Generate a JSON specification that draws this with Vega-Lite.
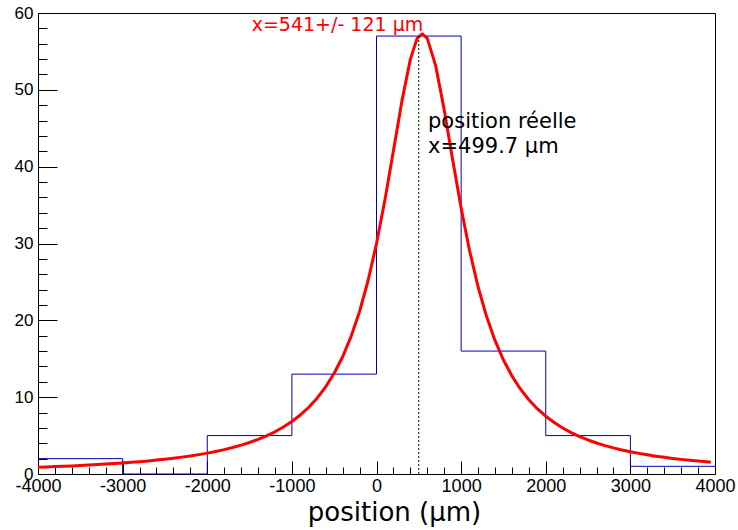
{
  "$schema": "https://vega.github.io/schema/vega-lite/v6.json",
  "width": 677,
  "height": 461,
  "autosize": "none",
  "padding": {"left": 38, "top": 13, "right": 23, "bottom": 56},
  "background": "white",
  "config": {
    "view": {"stroke": "black", "strokeWidth": 1},
    "axis": {"grid": false, "domainColor": "black", "domainWidth": 1, "tickColor": "black", "tickWidth": 1, "labelColor": "black", "labelFont": "Liberation Sans", "titleColor": "black"}
  },
  "encoding": {
    "x": {
      "field": "x", "type": "quantitative",
      "scale": {"domain": [-4000, 4000], "nice": false, "zero": false},
      "axis": {
        "values": [-4000,-3800,-3600,-3400,-3200,-3000,-2800,-2600,-2400,-2200,-2000,-1800,-1600,-1400,-1200,-1000,-800,-600,-400,-200,0,200,400,600,800,1000,1200,1400,1600,1800,2000,2200,2400,2600,2800,3000,3200,3400,3600,3800,4000],
        "labelExpr": "datum.value % 1000 === 0 ? '' + datum.value : ''",
        "tickSize": {"condition": {"test": "datum.value % 1000 === 0", "value": -13}, "value": -7},
        "labelPadding": 16,
        "labelFontSize": 18,
        "labelFlush": false,
        "labelOverlap": false,
        "labelBaseline": "top",
        "title": "position (µm)",
        "titleFont": "DejaVu Sans",
        "titleFontSize": 26,
        "titleFontWeight": "normal",
        "titleX": 356,
        "titleY": 46,
        "titleBaseline": "alphabetic",
        "titleAlign": "center",
        "titleAnchor": null
      }
    },
    "y": {
      "field": "y", "type": "quantitative",
      "scale": {"domain": [0, 60], "nice": false, "zero": true},
      "axis": {
        "values": [0,2,4,6,8,10,12,14,16,18,20,22,24,26,28,30,32,34,36,38,40,42,44,46,48,50,52,54,56,58,60],
        "labelExpr": "datum.value % 10 === 0 ? datum.label : ''",
        "tickSize": {"condition": {"test": "datum.value % 10 === 0", "value": -19}, "value": -9},
        "labelPadding": 24,
        "labelFontSize": 17,
        "labelFlush": false,
        "labelOverlap": false,
        "title": null
      }
    }
  },
  "layer": [
    {
      "data": {"values": [
        {"x": -4000, "y": 2}, {"x": -3000, "y": 0}, {"x": -2000, "y": 5}, {"x": -1000, "y": 13},
        {"x": 0, "y": 57}, {"x": 1000, "y": 16}, {"x": 2000, "y": 5}, {"x": 3000, "y": 1}, {"x": 4000, "y": 1}
      ]},
      "mark": {"type": "line", "interpolate": "step-after", "color": "#0000b4", "strokeWidth": 1}
    },
    {
      "data": {"values": [
        {"x": -4000, "y": 0.880}, {"x": -3900, "y": 0.919}, {"x": -3800, "y": 0.961}, {"x": -3700, "y": 1.006},
        {"x": -3600, "y": 1.054}, {"x": -3500, "y": 1.106}, {"x": -3400, "y": 1.162}, {"x": -3300, "y": 1.222},
        {"x": -3200, "y": 1.287}, {"x": -3100, "y": 1.357}, {"x": -3000, "y": 1.432}, {"x": -2900, "y": 1.515},
        {"x": -2800, "y": 1.604}, {"x": -2700, "y": 1.702}, {"x": -2600, "y": 1.808}, {"x": -2500, "y": 1.925},
        {"x": -2400, "y": 2.054}, {"x": -2300, "y": 2.195}, {"x": -2200, "y": 2.351}, {"x": -2100, "y": 2.524},
        {"x": -2000, "y": 2.718}, {"x": -1900, "y": 2.934}, {"x": -1800, "y": 3.175}, {"x": -1700, "y": 3.448},
        {"x": -1600, "y": 3.755}, {"x": -1500, "y": 4.105}, {"x": -1400, "y": 4.505}, {"x": -1300, "y": 4.965},
        {"x": -1200, "y": 5.495}, {"x": -1100, "y": 6.111}, {"x": -1000, "y": 6.833}, {"x": -900, "y": 7.682},
        {"x": -800, "y": 8.690}, {"x": -700, "y": 9.896}, {"x": -600, "y": 11.35}, {"x": -500, "y": 13.11},
        {"x": -400, "y": 15.26}, {"x": -300, "y": 17.91}, {"x": -200, "y": 21.16}, {"x": -100, "y": 25.15},
        {"x": 0, "y": 29.99}, {"x": 100, "y": 35.70}, {"x": 200, "y": 42.08}, {"x": 300, "y": 48.53},
        {"x": 400, "y": 53.96}, {"x": 480, "y": 56.70}, {"x": 541, "y": 57.30}, {"x": 600, "y": 56.69},
        {"x": 700, "y": 53.12}, {"x": 800, "y": 47.41}, {"x": 900, "y": 40.90}, {"x": 1000, "y": 34.62},
        {"x": 1100, "y": 29.06}, {"x": 1200, "y": 24.37}, {"x": 1300, "y": 20.52}, {"x": 1400, "y": 17.39},
        {"x": 1500, "y": 14.84}, {"x": 1600, "y": 12.77}, {"x": 1700, "y": 11.07}, {"x": 1800, "y": 9.663},
        {"x": 1900, "y": 8.495}, {"x": 2000, "y": 7.519}, {"x": 2100, "y": 6.694}, {"x": 2200, "y": 5.993},
        {"x": 2300, "y": 5.393}, {"x": 2400, "y": 4.877}, {"x": 2500, "y": 4.428}, {"x": 2600, "y": 4.038},
        {"x": 2700, "y": 3.697}, {"x": 2800, "y": 3.397}, {"x": 2900, "y": 3.129}, {"x": 3000, "y": 2.892},
        {"x": 3100, "y": 2.681}, {"x": 3200, "y": 2.492}, {"x": 3300, "y": 2.322}, {"x": 3400, "y": 2.168},
        {"x": 3500, "y": 2.030}, {"x": 3600, "y": 1.903}, {"x": 3700, "y": 1.788}, {"x": 3800, "y": 1.683},
        {"x": 3900, "y": 1.587}, {"x": 3950, "y": 1.543}
      ]},
      "mark": {"type": "line", "color": "#ff0000", "strokeWidth": 3, "strokeJoin": "round"}
    },
    {
      "data": {"values": [{"x": 499.7, "y": 0, "y2": 57.3}]},
      "mark": {"type": "rule", "color": "black", "strokeWidth": 1, "strokeDash": [2, 2]},
      "encoding": {"y2": {"field": "y2"}}
    },
    {
      "data": {"values": [{"x": -1475, "y": 57.7, "label": "x=541+/- 121 µm"}]},
      "mark": {"type": "text", "align": "left", "baseline": "alphabetic", "font": "DejaVu Sans", "fontSize": 19, "color": "#ff0000"},
      "encoding": {"text": {"field": "label"}}
    },
    {
      "data": {"values": [
        {"x": 609, "y": 45.07, "label": "position réelle"},
        {"x": 609, "y": 41.74, "label": "x=499.7 µm"}
      ]},
      "mark": {"type": "text", "align": "left", "baseline": "alphabetic", "font": "DejaVu Sans", "fontSize": 21, "color": "black"},
      "encoding": {"text": {"field": "label"}}
    }
  ]
}
